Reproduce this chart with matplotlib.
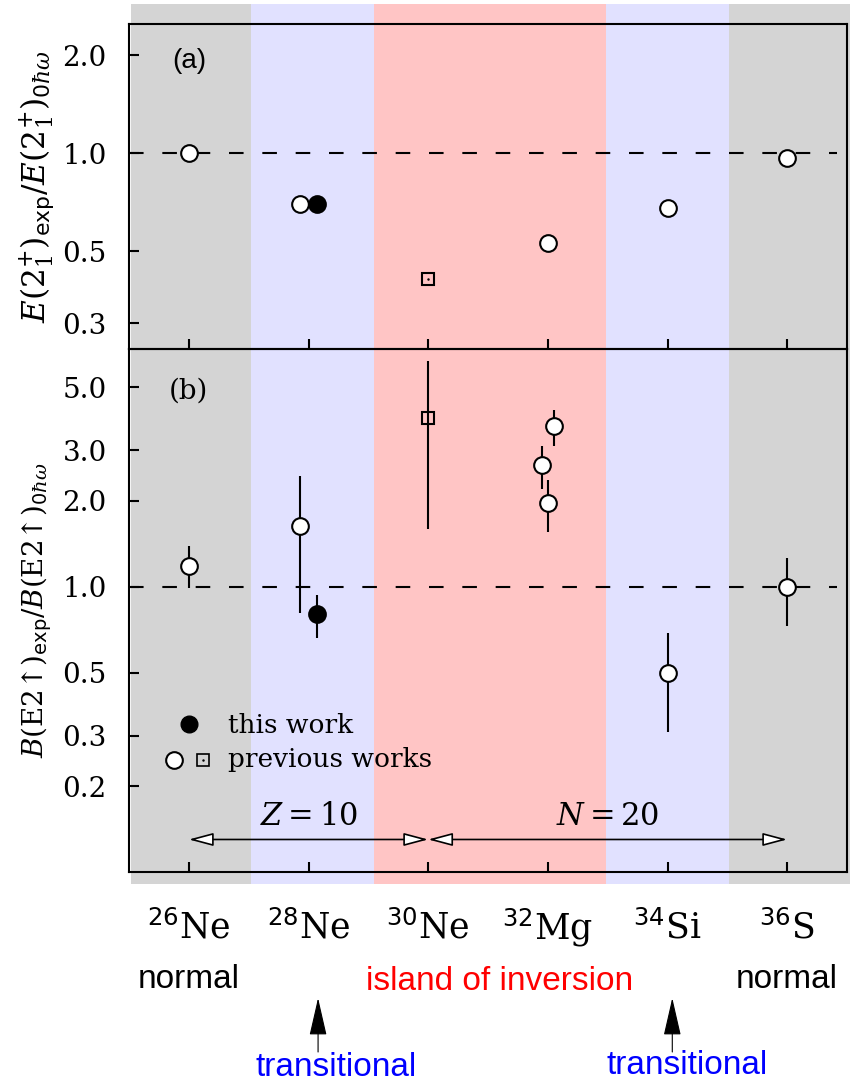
import matplotlib.pyplot as plt
import matplotlib.transforms as mtransforms
from matplotlib.patches import FancyArrowPatch, Rectangle
from matplotlib.ticker import NullLocator, NullFormatter
import numpy as np

plt.rcParams['mathtext.fontset'] = 'dejavuserif'

# ---------- data ----------
mass_numbers = ['26', '28', '30', '32', '34', '36']
elements = ['Ne', 'Ne', 'Ne', 'Mg', 'Si', 'S']

# panel (a): E(2+1)exp / E(2+1)0hw
a_prev_idx = [0, 1, 3, 4, 5]
a_prev_val = [1.00, 0.70, 0.53, 0.68, 0.97]
a_sq_idx = [2]
a_sq_val = [0.41]
a_this_idx = [1]
a_this_val = [0.70]

# panel (b): B(E2)exp / B(E2)0hw  (value, lower, upper)
b_prev_idx = [0, 1, 3, 3, 3, 4, 5]
b_prev_val = [1.18, 1.63, 2.66, 1.96, 3.64, 0.50, 1.00]
b_prev_lo = [0.99, 0.81, 2.20, 1.55, 3.12, 0.31, 0.73]
b_prev_hi = [1.39, 2.44, 3.12, 2.36, 4.17, 0.686, 1.26]
b_sq_idx = [2]
b_sq_val = [3.89]
b_sq_lo = [1.59]
b_sq_hi = [6.16]
b_this_idx = [1]
b_this_val = [0.80]
b_this_lo = [0.663]
b_this_hi = [0.934]

# band regions (category coordinates) and colours
band_edges = [-0.48, 0.52, 1.55, 3.49, 4.51, 5.53]
band_colors = ['#d4d4d4', '#e1e1ff', '#ffc5c5', '#e1e1ff', '#d4d4d4']

# ---------- layout ----------
a_prev_off = [0, -0.075, 0, 0, 0]
a_this_off = [0.075]
b_prev_off = [0, -0.075, -0.05, 0.0, 0.05, 0, 0]
b_this_off = [0.075]

W, H = 850, 1086
fig = plt.figure(figsize=(W / 100, H / 100), dpi=100)
left, right = 129 / W, 847 / W
ya_top, ya_bot = 1 - 24 / H, 1 - 349 / H
yb_bot = 1 - 872 / H

bg = fig.add_axes([left, 1 - 884 / H, right - left, (884 - 4) / H], zorder=0)
bg.set_xlim(-0.5, 5.5)
bg.set_ylim(0, 1)
bg.axis('off')
for i, c in enumerate(band_colors):
    bg.add_patch(Rectangle((band_edges[i], 0), band_edges[i + 1] - band_edges[i], 1,
                           facecolor=c, edgecolor='none', clip_on=False))

ax_a = fig.add_axes([left, ya_bot, right - left, ya_top - ya_bot], zorder=2)
ax_b = fig.add_axes([left, yb_bot, right - left, ya_bot - yb_bot], zorder=2)

lw = 1.5
ms = 12
for ax in (ax_a, ax_b):
    ax.set_facecolor('none')
    ax.set_yscale('log')
    ax.set_xlim(-0.5, 5.5)
    for s in ax.spines.values():
        s.set_linewidth(lw)
    ax.set_xticks(range(6))
    ax.set_xticklabels([])
    ax.yaxis.set_minor_locator(NullLocator())
    ax.yaxis.set_minor_formatter(NullFormatter())
    ax.tick_params(axis='both', direction='in', length=7, width=lw,
                   labelsize=20, pad=16)
    ax.plot([-0.5, 5.42], [1, 1], color='black', lw=lw, dashes=(7, 9), zorder=1)

# panel (a)
ax_a.set_ylim(0.25, 2.5)
ax_a.set_yticks([0.3, 0.5, 1.0, 2.0])
ax_a.set_yticklabels(['0.3', '0.5', '1.0', '2.0'], family='DejaVu Serif')
ax_a.plot(np.array(a_prev_idx) + np.array(a_prev_off), a_prev_val, 'o', ms=ms,
          mfc='white', mec='black', mew=lw, zorder=3)
ax_a.plot(a_sq_idx, a_sq_val, 's', ms=9, mfc='none', mec='black', mew=lw, zorder=3)
ax_a.plot(a_sq_idx, a_sq_val, '.', ms=1.5, color='black', zorder=3)
ax_a.plot(np.array(a_this_idx) + np.array(a_this_off), a_this_val, 'o', ms=ms,
          mfc='black', mec='black', mew=lw, zorder=3)
ax_a.text(0, 1.93, '(a)', family=['Liberation Sans', 'DejaVu Sans'], fontsize=20,
          ha='center', va='center')
ax_a.set_ylabel(r'$E(2^{+}_{1})_{\mathsf{exp}}/E(2^{+}_{1})_{\mathsf{0}\hbar\omega}$',
                fontsize=22.5, labelpad=4)

# panel (b)
ax_b.set_ylim(0.1, 6.8)
ax_b.set_yticks([0.2, 0.3, 0.5, 1.0, 2.0, 3.0, 5.0])
ax_b.set_yticklabels(['0.2', '0.3', '0.5', '1.0', '2.0', '3.0', '5.0'], family='DejaVu Serif')

xp = np.array(b_prev_idx) + np.array(b_prev_off)
vp = np.array(b_prev_val)
ax_b.errorbar(xp, vp, yerr=[vp - np.array(b_prev_lo), np.array(b_prev_hi) - vp],
              fmt='o', ms=ms, mfc='white', mec='black', mew=lw, ecolor='black',
              elinewidth=lw, capsize=0, zorder=3)
vs = np.array(b_sq_val)
ax_b.errorbar(b_sq_idx, vs, yerr=[vs - np.array(b_sq_lo), np.array(b_sq_hi) - vs],
              fmt='s', ms=9, mfc='none', mec='black', mew=lw, ecolor='black',
              elinewidth=lw, capsize=0, zorder=3)
xt = np.array(b_this_idx) + np.array(b_this_off)
vt = np.array(b_this_val)
ax_b.errorbar(xt, vt, yerr=[vt - np.array(b_this_lo), np.array(b_this_hi) - vt],
              fmt='o', ms=ms, mfc='black', mec='black', mew=lw, ecolor='black',
              elinewidth=lw, capsize=0, zorder=3)
ax_b.text(0, 4.85, '(b)', family='DejaVu Serif', fontsize=20, ha='center', va='center')
ax_b.set_ylabel(r'$B$(E2↑)$_{\mathsf{exp}}$/$B$(E2↑)$_{\mathsf{0}\hbar\omega}$',
                family='DejaVu Serif', fontsize=20, labelpad=6)

# legend drawn by hand
ax_b.plot([0.0], [0.331], 'o', ms=ms, mfc='black', mec='black', zorder=3)
ax_b.plot([-0.12], [0.247], 'o', ms=ms, mfc='white', mec='black', mew=lw, zorder=3)
ax_b.plot([0.12], [0.247], 's', ms=8, mfc='none', mec='black', mew=1.2, zorder=3)
ax_b.plot([0.12], [0.247], '.', ms=1.5, color='black', zorder=3)
ax_b.text(0.33, 0.325, 'this work', family='DejaVu Serif', fontsize=19, va='center')
ax_b.text(0.33, 0.247, 'previous works', family='DejaVu Serif', fontsize=19, va='center')

# Z=10 and N=20 arrows
arr_y = 0.13
for x0, x1 in [(0, 2), (2, 5)]:
    ax_b.add_patch(FancyArrowPatch((x0, arr_y), (x1, arr_y),
                                   arrowstyle='<|-|>,head_length=15,head_width=4',
                                   mutation_scale=1, shrinkA=0, shrinkB=0,
                                   fc='white', ec='black', lw=1.2, zorder=3))
ax_b.text(1.0, 0.157, r'$Z=10$', fontsize=22, ha='center', va='center')
ax_b.text(3.5, 0.157, r'$N=20$', fontsize=22, ha='center', va='center')

# labels under the axes
tr = mtransforms.blended_transform_factory(ax_b.transData, fig.transFigure)
for i, (m, e) in enumerate(zip(mass_numbers, elements)):
    ax_b.text(i, 1 - 928 / H, r'$^{\mathsf{%s}}$%s' % (m, e), transform=tr,
              family='DejaVu Serif', fontsize=25, ha='center', va='center', clip_on=False)

sans = ['Liberation Sans Narrow', 'Liberation Sans', 'DejaVu Sans']
ax_b.text(0, 1 - 980 / H, 'normal', transform=tr, family=sans, fontsize=24,
          ha='center', va='center', clip_on=False)
ax_b.text(5, 1 - 980 / H, 'normal', transform=tr, family=sans, fontsize=24,
          ha='center', va='center', clip_on=False)
ax_b.text(2.6, 1 - 982 / H, 'island of inversion', transform=tr, family=sans,
          fontsize=24, color='#ff0000', ha='center', va='center', clip_on=False)
ax_b.text(1.23, 1 - 1068 / H, 'transitional', transform=tr, family=sans, fontsize=24,
          color='#0000ff', ha='center', va='center', clip_on=False)
ax_b.text(4.16, 1 - 1066 / H, 'transitional', transform=tr, family=sans, fontsize=24,
          color='#0000ff', ha='center', va='center', clip_on=False)
for xa in [1.08, 4.04]:
    ax_b.add_patch(FancyArrowPatch((xa, 1 - 1052 / H), (xa, 1 - 998 / H), transform=tr,
                                   arrowstyle='-|>,head_length=24,head_width=5.5',
                                   mutation_scale=1, shrinkA=0, shrinkB=0,
                                   fc='black', ec='black', lw=0.8, clip_on=False))

fig.savefig('out.png', dpi=100)
